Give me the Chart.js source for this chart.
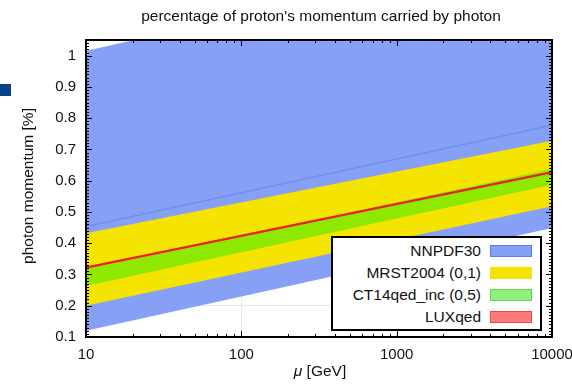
<!DOCTYPE html>
<html>
<head>
<meta charset="utf-8">
<script src="https://cdn.jsdelivr.net/npm/chart.js@4/dist/chart.umd.min.js"></script>
<style>
  html, body { margin: 0; padding: 0; background: #fff; }
  #wrap { position: relative; width: 572px; height: 387px; overflow: hidden; font-family: "Liberation Sans", Arial, sans-serif; color: #111; }
  #chart { position: absolute; left: 0; top: 0; }
  .title { position: absolute; left: 0; width: 642px; top: 7px; text-align: center; font-size: 15.5px; }
  .ytitle { position: absolute; left: 28px; top: 186px; font-size: 15.5px; white-space: nowrap; transform: translate(-50%, -50%) rotate(-90deg); }
  .xtitle { position: absolute; left: 0; width: 640px; top: 362px; text-align: center; font-size: 15.5px; }
  .mark { position: absolute; left: 0; top: 84px; width: 11px; height: 12px; background: #0b4386; }
  #legend { position: absolute; left: 331px; top: 236px; width: 207px; height: 91px; border: 2px solid #000; background: #fff; }
  .row { position: absolute; right: 8px; height: 14px; display: flex; align-items: center; font-size: 15.5px; }
  .row span.sw { display: inline-block; width: 40px; height: 10px; margin-left: 9px; border: 1px solid; }
</style>
</head>
<body>
<div id="wrap">
  <canvas id="chart" width="572" height="387"></canvas>
  <div class="title">percentage of proton's momentum carried by photon</div>
  <div class="ytitle">photon momentum [%]</div>
  <div class="xtitle"><i>μ</i> [GeV]</div>
  <div class="mark"></div>
  <div id="legend"></div>
</div>
<script>
// band edges at mu = 10 and mu = 10000 (straight lines on log x)
const muEnds = [10, 10000];
const nnpdfLow = [0.12, 0.449];
const nnpdfHigh = [1.015, 1.357];
const nnpdfCentral = [0.453, 0.777];
const mrstLow = [0.200, 0.518];
const mrstHigh = [0.432, 0.728];
const ct14Low = [0.263, 0.587];
const ct14High = [0.318, 0.637];
const luxLow = [0.320, 0.625];
const luxHigh = [0.324, 0.629];

const yTickValues = [0.1, 0.2, 0.3, 0.4, 0.5, 0.6, 0.7, 0.8, 0.9, 1.0];
const xDecades = [10, 100, 1000, 10000];

const legendItems = [
    { label: 'NNPDF30', fill: '#86a0f5', border: '#5a7ff0' },
    { label: 'MRST2004 (0,1)', fill: '#f5e400', border: '#f5e400' },
    { label: 'CT14qed_inc (0,5)', fill: '#90f07c', border: '#5fd84a' },
    { label: 'LUXqed', fill: '#ff7b7b', border: '#f04545' },
];

function pts(values) {
    return muEnds.map((x, i) => ({ x: x, y: values[i] }));
}

function xGridValues() {
    const vals = [];
    for (let d = 0; d < xDecades.length - 1; d++) {
        for (let k = 1; k < 10; k++) vals.push(xDecades[d] * k);
    }
    vals.push(xDecades[xDecades.length - 1]);
    return vals;
}

// frame and inward tick marks on all four sides
const frameTicks = {
    id: 'frameTicks',
    afterDraw(chart) {
        const { ctx, chartArea: a } = chart;
        const xs = chart.scales.x;
        const ys = chart.scales.y;
        ctx.save();
        ctx.strokeStyle = '#000';
        ctx.lineWidth = 1;
        ctx.beginPath();
        xGridValues().forEach((v) => {
            const px = Math.round(xs.getPixelForValue(v)) + 0.5;
            const len = xDecades.includes(v) ? 6 : 3;
            ctx.moveTo(px, a.bottom); ctx.lineTo(px, a.bottom - len);
            ctx.moveTo(px, a.top); ctx.lineTo(px, a.top + len);
        });
        for (let i = 10; i <= 105; i++) {
            const v = i / 100;
            const py = Math.round(ys.getPixelForValue(v)) + 0.5;
            const len = i % 10 === 0 ? 6 : 3;
            ctx.moveTo(a.left, py); ctx.lineTo(a.left + len, py);
            ctx.moveTo(a.right, py); ctx.lineTo(a.right - len, py);
        }
        ctx.stroke();
        ctx.lineWidth = 2;
        ctx.strokeRect(a.left, a.top, a.right - a.left, a.bottom - a.top);
        ctx.restore();
    }
};

function band(lo, hi, color, order) {
    return [
        { data: pts(lo), borderWidth: 0, pointRadius: 0, fill: false, order: order },
        { data: pts(hi), borderWidth: 0, pointRadius: 0, fill: '-1', backgroundColor: color, order: order },
    ];
}

const datasets = [
    ...band(nnpdfLow, nnpdfHigh, '#86a0f5', 10),
    { data: pts(nnpdfCentral), borderColor: '#6f8ff0', borderWidth: 1.5, pointRadius: 0, fill: false, order: 9 },
    ...band(mrstLow, mrstHigh, '#f5e400', 8),
    ...band(ct14Low, ct14High, '#8ee800', 7),
    { data: pts(luxLow), borderColor: '#ee1c1c', borderWidth: 1, pointRadius: 0, fill: false, order: 6 },
    { data: pts(luxHigh), borderColor: '#ee1c1c', borderWidth: 1, pointRadius: 0, fill: '-1', backgroundColor: '#ee1c1c', order: 6 },
];

const tickFont = { family: '"Liberation Sans", Arial, sans-serif', size: 15 };
const majorGrid = 'rgba(205, 205, 205, 0.45)';
const minorGrid = 'rgba(255, 255, 255, 0.2)';

new Chart(document.getElementById('chart'), {
    type: 'line',
    data: { datasets: datasets },
    plugins: [frameTicks],
    options: {
        responsive: false,
        animation: false,
        layout: { padding: { top: 40, right: 0, left: 0, bottom: 0 } },
        plugins: { legend: { display: false }, tooltip: { enabled: false } },
        scales: {
            x: {
                type: 'logarithmic',
                min: 10,
                max: 10000,
                z: 1,
                afterBuildTicks: (scale) => { scale.ticks = xGridValues().map((v) => ({ value: v })); },
                afterFit: (scale) => { scale.height = 50; scale.paddingRight = 20; scale.paddingLeft = 0; },
                grid: {
                    color: (c) => (c.tick && xDecades.includes(c.tick.value)) ? majorGrid : minorGrid,
                    drawTicks: false,
                },
                border: { display: false },
                ticks: {
                    autoSkip: false,
                    maxRotation: 0,
                    padding: 9,
                    color: '#111',
                    font: tickFont,
                    callback: (value) => xDecades.includes(value) ? String(value) : '',
                },
            },
            y: {
                type: 'linear',
                min: 0.1,
                max: 1.05,
                z: 1,
                afterBuildTicks: (scale) => { scale.ticks = yTickValues.map((v) => ({ value: v })); },
                afterFit: (scale) => { scale.width = 86; scale.paddingTop = 0; scale.paddingBottom = 0; },
                grid: { color: majorGrid, drawTicks: false },
                border: { display: false },
                ticks: {
                    padding: 10,
                    color: '#111',
                    font: tickFont,
                    callback: (value) => value === 1 ? '1' : value.toFixed(1),
                },
            },
        },
    },
});

const legendEl = document.getElementById('legend');
legendItems.forEach((item, i) => {
    const row = document.createElement('div');
    row.className = 'row';
    row.style.top = (6 + i * 22) + 'px';
    row.innerHTML = '<span>' + item.label + '</span><span class="sw" style="background:' + item.fill + ';border-color:' + item.border + '"></span>';
    legendEl.appendChild(row);
});
</script>
</body>
</html>
